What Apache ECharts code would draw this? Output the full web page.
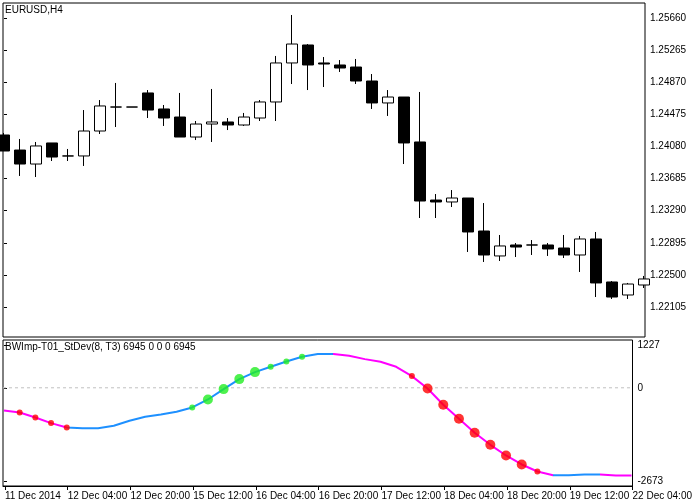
<!DOCTYPE html>
<html><head><meta charset="utf-8">
<script src="https://cdn.jsdelivr.net/npm/echarts@6/dist/echarts.min.js"></script>
<style>html,body{margin:0;padding:0;background:#fff}#c{width:695px;height:503px}</style>
</head><body><div id="c"></div>
<script>
// candle index 0..40, [open, close, low, high]
const candles = [
[1.24221,1.24024,1.24024,1.24246],[1.24036,1.23864,1.23717,1.24172],[1.23864,1.24086,1.23704,1.24135],
[1.24123,1.23950,1.23901,1.24123],[1.23963,1.23963,1.23901,1.24049],[1.23963,1.24270,1.23840,1.24528],
[1.24270,1.24578,1.24233,1.24651],[1.24565,1.24565,1.24319,1.24861],[1.24565,1.24565,1.24565,1.24565],
[1.24738,1.24528,1.24430,1.24774],[1.24541,1.24430,1.24332,1.24590],[1.24442,1.24196,1.24196,1.24738],
[1.24196,1.24356,1.24159,1.24393],[1.24356,1.24381,1.24135,1.24787],[1.24381,1.24344,1.24282,1.24430],
[1.24344,1.24442,1.24332,1.24492],[1.24430,1.24627,1.24393,1.24651],[1.24627,1.25107,1.24393,1.25193],
[1.25107,1.25340,1.24848,1.25697],[1.25328,1.25082,1.24774,1.25340],[1.25107,1.25094,1.24811,1.25180],
[1.25082,1.25045,1.24996,1.25143],[1.25057,1.24885,1.24848,1.25156],[1.24885,1.24615,1.24541,1.24971],
[1.24615,1.24688,1.24455,1.24774],[1.24688,1.24123,1.23864,1.24688],[1.24135,1.23409,1.23200,1.24750],
[1.23421,1.23397,1.23200,1.23495],[1.23397,1.23446,1.23335,1.23544],[1.23446,1.23028,1.22782,1.23446],
[1.23040,1.22745,1.22659,1.23384],[1.22733,1.22856,1.22671,1.22991],[1.22868,1.22843,1.22720,1.22892],
[1.22868,1.22868,1.22745,1.22929],[1.22868,1.22819,1.22733,1.22892],[1.22831,1.22745,1.22708,1.22991],
[1.22745,1.22942,1.22536,1.22979],[1.22942,1.22401,1.22228,1.23028],[1.22413,1.22228,1.22204,1.22425],
[1.22253,1.22388,1.22204,1.22401],[1.22376,1.22450,1.22339,1.22487]
];
const indicator = [-650,-707,-851,-1013,-1138,-1157,-1157,-1090,-946,-832,-765,-688,-564,-335,-38,249,449,602,755,889,966,966,918,822,746,602,335,-19,-488,-889,-1291,-1635,-1941,-2199,-2400,-2505,-2505,-2486,-2486,-2514,-2514];
const greenSmall = [12,17,18,19];
const greenBig = [13,14,15,16];
const redSmall = [1,2,3,4,26,34];
const redBig = [27,28,29,30,31,32,33];
const priceTicks = [1.22105,1.22500,1.22895,1.23290,1.23685,1.24080,1.24475,1.24870,1.25265,1.25660];
const indTicks = [1227,0,-2673];
const zeroLevel = 0;
const timeTickPos = [0.0625,4.0625,8.0625,12.0625,16.0625,20.0625,24.0625,28.0625,32.0625,36.0625,40.0625];
const timeLabels = ['11 Dec 2014','12 Dec 04:00','12 Dec 20:00','15 Dec 12:00','16 Dec 04:00','16 Dec 20:00','17 Dec 12:00','18 Dec 04:00','18 Dec 20:00','19 Dec 12:00','22 Dec 04:00'];

const font = {fontFamily:'Liberation Sans',fontSize:10,color:'#000'};
const ch = echarts.init(document.getElementById('c'));
const pts = idx => idx.map(i => [i, indicator[i]]);
ch.setOption({
  animation:false,
  graphic:[
    {type:'text',left:5,top:5,style:{text:'EURUSD,H4',fill:'#000',font:'10px Liberation Sans'}},
    {type:'text',left:5,top:342,style:{text:'BWImp-T01_StDev(8, T3) 6945 0 0 0 6945',fill:'#000',font:'10px Liberation Sans'}}
  ],
  grid:[
    {left:3,top:3,width:642,height:334,show:true,borderColor:'#000',borderWidth:1,backgroundColor:'#fff'},
    {left:3,top:340,width:642,height:146,show:true,borderColor:'#000',borderWidth:1,backgroundColor:'#fff'}
  ],
  xAxis:[
    {gridIndex:0,type:'value',min:-0.0625,max:40.0625,axisLine:{show:false,onZero:false},axisTick:{show:false},axisLabel:{show:false},splitLine:{show:false}},
    {gridIndex:1,type:'value',min:-0.0625,max:40.0625,position:'bottom',
      axisLine:{show:true,onZero:false,lineStyle:{color:'#000'}},
      axisTick:{show:true,length:4,inside:false,customValues:timeTickPos,lineStyle:{color:'#000'}},
      axisLabel:Object.assign({customValues:timeTickPos,align:'left',margin:5,showMaxLabel:true,
        formatter:(v)=>{const k=timeTickPos.findIndex(t=>Math.abs(t-v)<1e-6);return k>=0?timeLabels[k]:'';}},font),
      splitLine:{show:false}}
  ],
  yAxis:[
    {gridIndex:0,type:'value',position:'right',min:1.217363,max:1.258445,
      axisLine:{show:false},axisTick:{show:true,length:3,customValues:priceTicks,lineStyle:{color:'#000'}},
      axisLabel:Object.assign({customValues:priceTicks,margin:5,formatter:v=>v.toFixed(5)},font),splitLine:{show:false}},
    {gridIndex:1,type:'value',position:'right',min:-2816,max:1370,
      axisLine:{show:false},axisTick:{show:true,length:3,customValues:indTicks,lineStyle:{color:'#000'}},
      axisLabel:Object.assign({customValues:indTicks,margin:5,formatter:v=>String(v)},font),splitLine:{show:false}}
  ],
  visualMap:{show:false,type:'piecewise',seriesIndex:[1],dimension:0,pieces:[
    {lte:4,color:'#ff00ff'},{gt:4,lte:21,color:'#1e90ff'},{gt:21,lte:35,color:'#ff00ff'},{gt:35,lte:38,color:'#1e90ff'},{gt:38,color:'#ff00ff'}]},
  series:[
    {type:'candlestick',xAxisIndex:0,yAxisIndex:0,barWidth:11,encode:{x:0,y:[1,2,3,4]},
      data:candles.map((c,i)=>[i].concat(c)),
      itemStyle:{color:'#fff',color0:'#000',borderColor:'#000',borderColor0:'#000',borderWidth:1}},
    {type:'line',xAxisIndex:1,yAxisIndex:1,data:indicator.map((v,i)=>[i,v]),showSymbol:false,lineStyle:{width:2},z:3},
    {type:'scatter',xAxisIndex:1,yAxisIndex:1,data:pts(greenSmall),symbolSize:6,itemStyle:{color:'#22ee22'},z:5},
    {type:'scatter',xAxisIndex:1,yAxisIndex:1,data:pts(greenBig),symbolSize:10,itemStyle:{color:'#22ee22'},z:5},
    {type:'scatter',xAxisIndex:1,yAxisIndex:1,data:pts(redSmall),symbolSize:6,itemStyle:{color:'#ff0000'},z:5},
    {type:'scatter',xAxisIndex:1,yAxisIndex:1,data:pts(redBig),symbolSize:10,itemStyle:{color:'#ff0000'},z:5},
    {type:'line',xAxisIndex:1,yAxisIndex:1,z:1,showSymbol:false,silent:true,
      data:[[-0.0625,zeroLevel],[40.0625,zeroLevel]],
      itemStyle:{color:'#c0c0c0'},lineStyle:{color:'#c0c0c0',type:[3,3],width:1}}
  ]
});
</script></body></html>
